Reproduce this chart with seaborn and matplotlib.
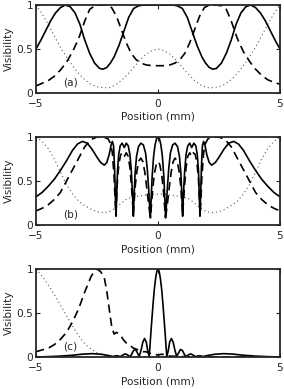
import matplotlib
matplotlib.use("Agg")
import matplotlib.pyplot as plt
import seaborn as sns

# ---------------- data ----------------
# panel (a)
a_solid_x = [-5.0, -4.8, -4.6, -4.4, -4.2, -4.0, -3.8, -3.6, -3.4, -3.2, -3.0, -2.8, -2.6, -2.4, -2.25,
             -2.1, -1.95, -1.8, -1.6, -1.4, -1.2, -1.0, -0.8, -0.6, -0.3, 0.0,
             0.3, 0.6, 0.8, 1.0, 1.2, 1.4, 1.6, 1.8, 1.95, 2.1, 2.25, 2.4, 2.6, 2.8, 3.0,
             3.2, 3.4, 3.6, 3.8, 4.0, 4.2, 4.4, 4.6, 4.8, 5.0]
a_solid_y = [0.50, 0.60, 0.71, 0.82, 0.91, 0.97, 1.00, 0.98, 0.91, 0.78, 0.60, 0.45, 0.34, 0.28, 0.27,
             0.29, 0.34, 0.41, 0.54, 0.70, 0.86, 0.96, 0.99, 1.00, 1.00, 1.00,
             1.00, 1.00, 0.99, 0.96, 0.86, 0.70, 0.54, 0.41, 0.34, 0.29, 0.27, 0.28, 0.34, 0.45, 0.60,
             0.78, 0.91, 0.98, 1.00, 0.97, 0.91, 0.82, 0.71, 0.60, 0.50]
a_dash_x = [-5.0, -4.75, -4.5, -4.25, -4.0, -3.75, -3.5, -3.25, -3.0, -2.8, -2.6, -2.4, -2.1, -1.9,
            -1.7, -1.5, -1.3, -1.1, -0.9, -0.7, -0.5, -0.25, 0.0,
            0.25, 0.5, 0.7, 0.9, 1.1, 1.3, 1.5, 1.7, 1.9, 2.1, 2.4, 2.6, 2.8, 3.0, 3.25, 3.5,
            3.75, 4.0, 4.25, 4.5, 4.75, 5.0]
a_dash_y = [0.08, 0.11, 0.14, 0.19, 0.26, 0.35, 0.47, 0.62, 0.82, 0.95, 0.99, 1.00, 1.00, 0.97,
            0.87, 0.72, 0.57, 0.45, 0.38, 0.34, 0.32, 0.31, 0.31,
            0.31, 0.32, 0.34, 0.38, 0.45, 0.57, 0.72, 0.87, 0.97, 1.00, 1.00, 0.99, 0.95, 0.82, 0.62, 0.47,
            0.36, 0.27, 0.20, 0.15, 0.12, 0.10]
a_dot_x = [-5.0, -4.75, -4.5, -4.25, -4.0, -3.75, -3.5, -3.25, -3.0, -2.75, -2.5, -2.25, -2.0, -1.75,
           -1.5, -1.25, -1.0, -0.75, -0.5, -0.25, 0.0,
           0.25, 0.5, 0.75, 1.0, 1.25, 1.5, 1.75, 2.0, 2.25, 2.5, 2.75, 3.0, 3.25, 3.5, 3.75,
           4.0, 4.25, 4.5, 4.75, 5.0]
a_dot_y = [1.00, 0.90, 0.78, 0.65, 0.52, 0.41, 0.31, 0.22, 0.15, 0.10, 0.07, 0.06, 0.06, 0.09,
           0.14, 0.21, 0.29, 0.37, 0.44, 0.48, 0.50,
           0.48, 0.44, 0.37, 0.29, 0.21, 0.14, 0.09, 0.06, 0.06, 0.07, 0.10, 0.15, 0.22, 0.31, 0.41,
           0.52, 0.65, 0.78, 0.90, 1.00]

# panel (b)
b_solid_x = [-5.0, -4.75, -4.5, -4.25, -4.0, -3.75, -3.5, -3.3, -3.1, -2.9, -2.7, -2.5, -2.35, -2.2,
             -2.1, -2.0, -1.93, -1.87, -1.82, -1.78, -1.75, -1.72, -1.69, -1.66, -1.61, -1.55,
             -1.47, -1.38, -1.30, -1.22, -1.15, -1.09, -1.04, -1.01, -0.98, -0.94, -0.88, -0.80,
             -0.70, -0.60, -0.51, -0.44, -0.38, -0.33, -0.31, -0.28, -0.24, -0.18, -0.12, -0.06, 0.0,
             0.06, 0.12, 0.18, 0.24, 0.28, 0.31, 0.33, 0.38, 0.44, 0.51, 0.60, 0.70, 0.80, 0.88,
             0.94, 0.98, 1.01, 1.04, 1.09, 1.15, 1.22, 1.30, 1.38, 1.47, 1.55, 1.61, 1.66, 1.69,
             1.72, 1.75, 1.78, 1.82, 1.87, 1.93, 2.0, 2.1, 2.2, 2.35, 2.5, 2.7, 2.9, 3.1, 3.3, 3.5,
             3.75, 4.0, 4.25, 4.5, 4.75, 5.0]
b_solid_y = [0.32, 0.37, 0.44, 0.52, 0.62, 0.73, 0.85, 0.92, 0.95, 0.93, 0.86, 0.77, 0.71, 0.68,
             0.71, 0.80, 0.90, 0.95, 0.90, 0.65, 0.35, 0.10, 0.35, 0.62, 0.80, 0.90,
             0.93, 0.88, 0.93, 0.90, 0.80, 0.60, 0.33, 0.10, 0.33, 0.58, 0.78, 0.89,
             0.93, 0.91, 0.82, 0.64, 0.40, 0.15, 0.08, 0.30, 0.55, 0.78, 0.91, 0.98, 1.00,
             0.98, 0.91, 0.78, 0.55, 0.30, 0.08, 0.15, 0.40, 0.64, 0.82, 0.91, 0.93, 0.89, 0.78,
             0.58, 0.33, 0.10, 0.33, 0.60, 0.80, 0.90, 0.93, 0.88, 0.93, 0.90, 0.80, 0.62, 0.35,
             0.10, 0.35, 0.65, 0.90, 0.95, 0.90, 0.80, 0.71, 0.68, 0.71, 0.77, 0.86, 0.93, 0.95, 0.92, 0.85,
             0.73, 0.62, 0.52, 0.44, 0.37, 0.32]
b_dash_x = [-5.0, -4.75, -4.5, -4.25, -4.0, -3.75, -3.5, -3.25, -3.0, -2.75, -2.5, -2.25, -2.05,
            -1.95, -1.87, -1.80, -1.76, -1.73, -1.70, -1.66, -1.60, -1.53, -1.45, -1.38, -1.30,
            -1.22, -1.15, -1.09, -1.04, -1.01, -0.98, -0.93, -0.86, -0.78, -0.70, -0.62, -0.54,
            -0.46, -0.39, -0.33, -0.30, -0.27, -0.22, -0.15, -0.07, 0.0,
            0.07, 0.15, 0.22, 0.27, 0.30, 0.33, 0.39, 0.46, 0.54, 0.62, 0.70, 0.78, 0.86, 0.93,
            0.98, 1.01, 1.04, 1.09, 1.15, 1.22, 1.30, 1.38, 1.45, 1.53, 1.60, 1.66, 1.70, 1.73,
            1.76, 1.80, 1.87, 1.95, 2.05, 2.25, 2.5, 2.75, 3.0, 3.25, 3.5, 3.75, 4.0, 4.25, 4.5,
            4.75, 5.0]
b_dash_y = [0.16, 0.19, 0.23, 0.29, 0.37, 0.50, 0.63, 0.76, 0.89, 0.97, 1.00, 1.00, 0.98,
            0.93, 0.82, 0.55, 0.30, 0.12, 0.28, 0.52, 0.70, 0.80, 0.82, 0.78, 0.82,
            0.78, 0.65, 0.45, 0.25, 0.12, 0.25, 0.45, 0.62, 0.73, 0.76, 0.72, 0.60,
            0.42, 0.25, 0.12, 0.10, 0.22, 0.40, 0.58, 0.69, 0.72,
            0.69, 0.58, 0.40, 0.22, 0.10, 0.12, 0.25, 0.42, 0.60, 0.72, 0.76, 0.73, 0.62, 0.45,
            0.25, 0.12, 0.25, 0.45, 0.65, 0.78, 0.82, 0.78, 0.82, 0.80, 0.70, 0.52, 0.28, 0.12,
            0.30, 0.55, 0.82, 0.93, 0.98, 1.00, 1.00, 0.97, 0.89, 0.76, 0.63, 0.50, 0.37, 0.29, 0.23,
            0.19, 0.16]
b_dot_x = [-5.0, -4.75, -4.5, -4.25, -4.0, -3.75, -3.5, -3.25, -3.0, -2.75, -2.5, -2.25, -2.0,
           -1.75, -1.5, -1.25, -1.0, -0.75, -0.5, -0.25, 0.0,
           0.25, 0.5, 0.75, 1.0, 1.25, 1.5, 1.75, 2.0, 2.25, 2.5, 2.75, 3.0, 3.25, 3.5, 3.75,
           4.0, 4.25, 4.5, 4.75, 5.0]
b_dot_y = [1.00, 0.95, 0.87, 0.75, 0.60, 0.46, 0.35, 0.27, 0.22, 0.18, 0.15, 0.14, 0.15,
           0.19, 0.25, 0.30, 0.32, 0.33, 0.34, 0.35, 0.35,
           0.35, 0.34, 0.33, 0.32, 0.30, 0.25, 0.19, 0.15, 0.14, 0.15, 0.18, 0.22, 0.27, 0.35, 0.46,
           0.60, 0.75, 0.87, 0.95, 1.00]

# panel (c)
c_solid_x = [-5.0, -4.5, -4.0, -3.5, -3.1, -2.7, -2.3, -2.0, -1.85, -1.75, -1.65, -1.55, -1.45,
             -1.35, -1.25, -1.15, -1.08, -1.0, -0.92, -0.84, -0.77, -0.70, -0.62, -0.55, -0.48,
             -0.42, -0.36, -0.30, -0.25, -0.20, -0.15, -0.10, -0.05, 0.0,
             0.05, 0.10, 0.15, 0.20, 0.25, 0.30, 0.36, 0.42, 0.48, 0.55, 0.62, 0.70, 0.77, 0.84,
             0.92, 1.0, 1.08, 1.15, 1.25, 1.35, 1.45, 1.55, 1.65, 1.75, 1.85, 2.0, 2.3, 2.7, 3.1,
             3.5, 4.0, 4.5, 5.0]
c_solid_y = [0.000, 0.004, 0.010, 0.020, 0.032, 0.038, 0.030, 0.015, 0.005, 0.012, 0.014, 0.003, 0.020,
             0.035, 0.025, 0.003, 0.030, 0.075, 0.085, 0.045, 0.005, 0.070, 0.170, 0.210, 0.170,
             0.070, 0.005, 0.240, 0.430, 0.610, 0.770, 0.890, 0.970, 1.000,
             0.970, 0.890, 0.770, 0.610, 0.430, 0.240, 0.005, 0.070, 0.170, 0.210, 0.170, 0.070, 0.005, 0.045,
             0.085, 0.075, 0.030, 0.003, 0.025, 0.035, 0.020, 0.003, 0.014, 0.012, 0.005, 0.015, 0.030, 0.038, 0.032,
             0.020, 0.010, 0.004, 0.000]
c_dash_x = [-5.0, -4.75, -4.5, -4.25, -4.0, -3.75, -3.5, -3.25, -3.0, -2.75, -2.6, -2.5, -2.35,
            -2.2, -2.1, -2.0, -1.9, -1.8, -1.7, -1.6, -1.5, -1.4, -1.3, -1.2, -1.1, -1.0, -0.9,
            -0.8, -0.7, -0.6, -0.5, -0.4, -0.3, -0.2, -0.1, 0.0, 0.1, 0.2, 0.3, 0.5, 1.0, 1.5,
            2.0, 3.0, 4.0, 5.0]
c_dash_y = [0.06, 0.08, 0.10, 0.14, 0.20, 0.28, 0.40, 0.55, 0.74, 0.91, 0.98, 1.00, 0.97,
            0.90, 0.75, 0.55, 0.35, 0.26, 0.28, 0.26, 0.23, 0.19, 0.16, 0.14, 0.12, 0.10, 0.09,
            0.08, 0.07, 0.06, 0.06, 0.05, 0.04, 0.03, 0.03, 0.02, 0.03, 0.03, 0.02, 0.01, 0.005, 0.0,
            0.0, 0.0, 0.0, 0.0]
c_dot_x = [-5.0, -4.75, -4.5, -4.25, -4.0, -3.75, -3.5, -3.25, -3.0, -2.75, -2.5, -2.25, -2.0,
           -1.5, -1.0, 0.0, 1.0, 2.0, 3.0, 4.0, 5.0]
c_dot_y = [1.00, 0.92, 0.82, 0.71, 0.59, 0.47, 0.35, 0.24, 0.15, 0.09, 0.05, 0.025, 0.01,
           0.0, 0.0, 0.0, 0.0, 0.0, 0.0, 0.0, 0.0]

panel_labels = ["(a)", "(b)", "(c)"]
x_ticks = [-5, 0, 5]
x_ticklabels = ["\u22125", "0", "5"]
y_ticks = [0, 0.5, 1]
y_ticklabels = ["0", "0.5", "1"]
x_label = "Position (mm)"
y_label = "Visibility"

# ---------------- plotting ----------------
sns.set_style("ticks")
plt.rcParams["font.family"] = ["DejaVu Sans"]

fig = plt.figure(figsize=(2.84, 3.89), dpi=100)
bottoms = [0.761, 0.4216, 0.0823]
panels = [
    (a_solid_x, a_solid_y, a_dash_x, a_dash_y, a_dot_x, a_dot_y),
    (b_solid_x, b_solid_y, b_dash_x, b_dash_y, b_dot_x, b_dot_y),
    (c_solid_x, c_solid_y, c_dash_x, c_dash_y, c_dot_x, c_dot_y),
]
fs = 7.6
for i, (sx, sy, dx, dy, ox, oy) in enumerate(panels):
    ax = fig.add_axes([0.1268, bottoms[i], 0.859, 0.2262])
    sns.lineplot(x=ox, y=oy, ax=ax, color="0.35", lw=0.8, sort=False, estimator=None)
    ax.lines[-1].set_dashes((1, 2.6))
    sns.lineplot(x=dx, y=dy, ax=ax, color="black", lw=1.2, sort=False, estimator=None)
    ax.lines[-1].set_dashes((5, 3))
    sns.lineplot(x=sx, y=sy, ax=ax, color="black", lw=1.2, sort=False, estimator=None)
    ax.set_xlim(-5, 5)
    ax.set_ylim(0, 1)
    ax.set_xticks(x_ticks)
    ax.set_xticklabels(x_ticklabels, fontsize=fs, color="0.15")
    ax.set_yticks(y_ticks)
    ax.set_yticklabels(y_ticklabels, fontsize=fs, color="0.15")
    ax.tick_params(direction="in", length=3, width=0.8, top=True, right=True)
    ax.tick_params(axis="x", pad=4)
    ax.tick_params(axis="y", pad=2)
    for sp in ax.spines.values():
        sp.set_linewidth(1.3)
        sp.set_visible(True)
    ax.set_xlabel(x_label, fontsize=fs, labelpad=2.5, color="0.15")
    ax.set_ylabel(y_label, fontsize=fs, labelpad=2, color="0.15")
    ax.text(-3.9, 0.12, panel_labels[i], fontsize=fs, ha="left", va="center", color="0.15")

fig.savefig("out.png", dpi=100)
